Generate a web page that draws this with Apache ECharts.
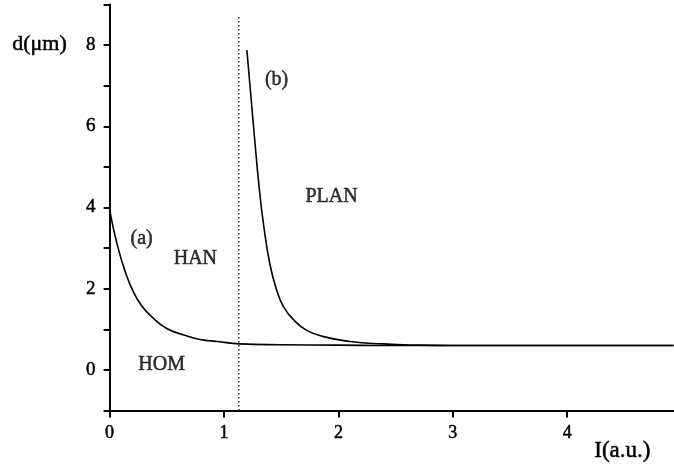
<!DOCTYPE html>
<html>
<head>
<meta charset="utf-8">
<script src="https://cdn.jsdelivr.net/npm/echarts@6/dist/echarts.min.js"></script>
<style>
html,body{margin:0;padding:0;background:#fff;}
#chart{width:674px;height:470px;}
</style>
</head>
<body>
<div id="chart"></div>
<script>
// Curve (a): HOM/HAN boundary
const curveA_x = [0, 0.067, 0.14, 0.21, 0.28, 0.36, 0.50, 0.65, 0.79, 0.94, 1.14, 1.5, 2.0, 2.5, 3.0, 4.0, 4.93];
const curveA_d = [3.95, 3.08, 2.39, 1.91, 1.58, 1.33, 1.02, 0.86, 0.75, 0.70, 0.64, 0.62, 0.61, 0.60, 0.60, 0.60, 0.60];
// Curve (b): HAN/PLAN boundary
const curveB_x = [1.20, 1.256, 1.31, 1.345, 1.40, 1.46, 1.52, 1.61, 1.72, 1.87, 2.10, 2.39, 2.7, 3.0, 4.0, 4.93];
const curveB_d = [7.88, 6.07, 4.42, 3.60, 2.62, 1.97, 1.56, 1.23, 0.98, 0.82, 0.70, 0.64, 0.61, 0.60, 0.60, 0.60];
// Dotted threshold line
const threshold_x = [1.13, 1.13];
const threshold_d = [-1, 8.69];
// Region / curve labels
const annot_text = ['(a)', 'HAN', 'HOM', 'PLAN', '(b)'];
const annot_x = [0.28, 0.75, 0.455, 1.94, 1.46];
const annot_d = [3.24, 2.75, 0.12, 4.27, 7.14];
// Axis ticks
const xTicks = [0, 1, 2, 3, 4];
const yLabels = [0, 2, 4, 6, 8];

const zip = (xs, ys) => xs.map((x, i) => [x, ys[i]]);
const FONT = 'Liberation Serif';
const thick = {textBorderColor: '#000', textBorderWidth: 0.5};

const chart = echarts.init(document.getElementById('chart'), null, {renderer: 'canvas'});
chart.setOption({
  backgroundColor: '#fff',
  animation: false,
  grid: {left: 109.6, right: 0, top: 4.5, bottom: 59.5},
  xAxis: {
    type: 'value', min: 0, max: 4.934, interval: 1,
    axisLine: {show: true, onZero: false, lineStyle: {color: '#000', width: 2}},
    axisTick: {show: true, length: 7, lineStyle: {color: '#000', width: 2}},
    axisLabel: Object.assign({
      color: '#000', fontFamily: FONT, fontSize: 18, margin: 14,
      showMaxLabel: false,
      formatter: v => xTicks.includes(Math.round(v * 1000) / 1000) ? String(v) : ''
    }, thick),
    splitLine: {show: false}
  },
  yAxis: {
    type: 'value', min: -1, max: 9, interval: 1,
    axisLine: {show: true, onZero: false, lineStyle: {color: '#000', width: 2}},
    axisTick: {show: true, length: 6, lineStyle: {color: '#000', width: 2}},
    axisLabel: Object.assign({
      color: '#000', fontFamily: FONT, fontSize: 19, margin: 14,
      formatter: v => yLabels.includes(v) ? String(v) : ''
    }, thick),
    splitLine: {show: false}
  },
  graphic: [
    {type: 'text', left: 12, top: 33, style: {text: 'd(\u03bcm)', font: '22px "Liberation Serif"', fill: '#000', stroke: '#000', lineWidth: 0.5}},
    {type: 'text', left: 594, top: 439, style: {text: 'I(a.u.)', font: '23px "Liberation Serif"', fill: '#000', stroke: '#000', lineWidth: 0.5}}
  ],
  series: [
    {
      type: 'line', data: zip(threshold_x, threshold_d), showSymbol: false,
      lineStyle: {color: '#333', width: 1.5, type: [1.5, 2.5]}, z: 1
    },
    {
      type: 'line', data: zip(curveA_x, curveA_d), showSymbol: false,
      smooth: 0.5,
      lineStyle: {color: '#000', width: 1.6}, z: 3
    },
    {
      type: 'line', data: zip(curveB_x, curveB_d), showSymbol: false,
      smooth: 0.5,
      lineStyle: {color: '#000', width: 1.6}, z: 3
    },
    {
      type: 'scatter', symbolSize: 0, silent: true,
      data: annot_x.map((x, i) => ({value: [x, annot_d[i]], name: annot_text[i]})),
      label: Object.assign({
        show: true, position: 'inside', formatter: p => p.name,
        color: '#000', fontFamily: FONT, fontSize: 20
      }, thick)
    }
  ]
});
</script>
</body>
</html>
